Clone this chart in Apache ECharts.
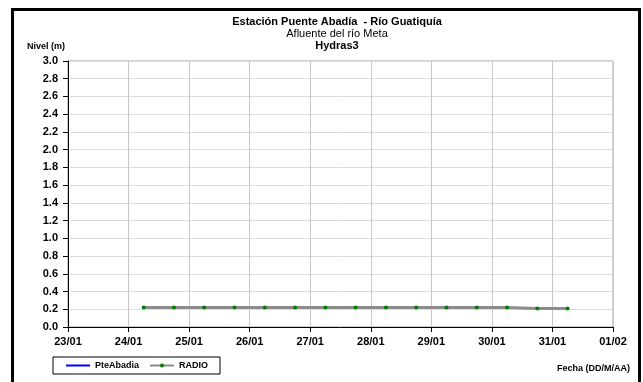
<!DOCTYPE html>
<html>
<head>
<meta charset="utf-8">
<script src="https://cdn.jsdelivr.net/npm/echarts@6/dist/echarts.min.js"></script>
<style>
	html,body{margin:0;padding:0;background:#fff;}
	#chart{width:643px;height:382px;}
</style>
</head>
<body>
<div id="chart"></div>
<script>
	// datos
	var fechas = ['2014-01-24T06:00Z','2014-01-24T18:00Z','2014-01-25T06:00Z','2014-01-25T18:00Z',
		'2014-01-26T06:00Z','2014-01-26T18:00Z','2014-01-27T06:00Z','2014-01-27T18:00Z',
		'2014-01-28T06:00Z','2014-01-28T18:00Z','2014-01-29T06:00Z','2014-01-29T18:00Z',
		'2014-01-30T06:00Z','2014-01-30T18:00Z','2014-01-31T06:00Z'];
	var radio = [0.22,0.22,0.22,0.22,0.22,0.22,0.22,0.22,0.22,0.22,0.22,0.22,0.22,0.21,0.21];
	var pteAbadia = [];
	var dia = 86400000;
	var xMin = Date.UTC(2014,0,23);
	var xMax = Date.UTC(2014,1,1);

	var radioData = [];
	for(var i=0;i<fechas.length;i++){
		radioData.push([Date.parse(fechas[i]), radio[i]]);
	}

	function dosDig(n){ return (n<10?'0':'')+n; }

	var labelStyle = {color:'#000',fontFamily:'Liberation Sans, Arial',fontSize:11,fontWeight:'bold'};

	var option = {
		backgroundColor:'#fff',
		animation:false,
		grid:{left:68,right:30,top:61,bottom:55,show:true,borderColor:'#a0a0a0',borderWidth:1},
		legend:{
			left:53, top:357,
			padding:[4,12,4,12],
			borderColor:'#000', borderWidth:1,
			itemWidth:24, itemHeight:5, itemGap:10,
			textStyle:{color:'#000',fontFamily:'Liberation Sans, Arial',fontSize:9,fontWeight:'bold'},
			data:[
				{name:'PteAbadia', itemStyle:{opacity:0}},
				{name:'RADIO'}
			]
		},
		xAxis:{
			type:'value', min:xMin, max:xMax, interval:dia,
			axisLine:{show:true,lineStyle:{color:'#000',width:1}},
			axisTick:{show:true,length:5,lineStyle:{color:'#000'}},
			axisLabel:Object.assign({margin:9,formatter:function(v){
				var d = new Date(v);
				return dosDig(d.getUTCDate())+'/'+dosDig(d.getUTCMonth()+1);
			}},labelStyle),
			splitLine:{show:true,lineStyle:{color:'#c8c8c8',width:1}}
		},
		yAxis:{
			type:'value', min:0, max:3, interval:0.2,
			axisLine:{show:true,lineStyle:{color:'#000',width:1}},
			axisTick:{show:true,length:5,lineStyle:{color:'#000'}},
			axisLabel:Object.assign({margin:10,formatter:function(v){return v.toFixed(1);}},labelStyle),
			splitLine:{show:true,lineStyle:{color:'#dcdcdc',width:1}}
		},
		graphic:[
			{type:'rect',shape:{x:11,y:8,width:630,height:3},style:{fill:'#000'}},
			{type:'rect',shape:{x:11,y:8,width:3,height:380},style:{fill:'#000'}},
			{type:'rect',shape:{x:638,y:8,width:3,height:380},style:{fill:'#000'}},
			{type:'text',x:337,y:22,style:{text:'Estación Puente Abadía  - Río Guatiquía',fill:'#000',font:'bold 11px Liberation Sans, Arial',textAlign:'center',textVerticalAlign:'middle'}},
			{type:'text',x:337,y:34,style:{text:'Afluente del río Meta',fill:'#000',font:'11px Liberation Sans, Arial',textAlign:'center',textVerticalAlign:'middle'}},
			{type:'text',x:337,y:46,style:{text:'Hydras3',fill:'#000',font:'bold 11px Liberation Sans, Arial',textAlign:'center',textVerticalAlign:'middle'}},
			{type:'text',x:27,y:47,style:{text:'Nivel (m)',fill:'#000',font:'bold 9px Liberation Sans, Arial',textAlign:'left',textVerticalAlign:'middle'}},
			{type:'text',x:630,y:369,style:{text:'Fecha (DD/M/AA)',fill:'#000',font:'bold 9px Liberation Sans, Arial',textAlign:'right',textVerticalAlign:'middle'}}
		],
		series:[
			{
				name:'PteAbadia', type:'line', symbol:'none',
				lineStyle:{color:'#0000ff',width:3}, itemStyle:{color:'#0000ff'},
				data:pteAbadia
			},
			{
				name:'RADIO', type:'line', symbol:'circle', symbolSize:4, showAllSymbol:true,
				lineStyle:{color:'#8c8c8c',width:3},
				itemStyle:{color:'#008000',borderWidth:0},
				data:radioData
			}
		]
	};

	var miGrafico = echarts.init(document.getElementById('chart'));
	miGrafico.setOption(option);
</script>
</body>
</html>
